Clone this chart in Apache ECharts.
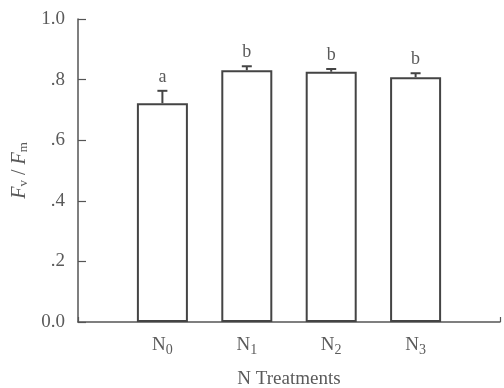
<!DOCTYPE html>
<html>
<head>
<meta charset="utf-8">
<script src="https://cdn.jsdelivr.net/npm/echarts@6/dist/echarts.min.js"></script>
<style>
html, body { margin: 0; padding: 0; background: #fff; }
#chart { width: 504px; height: 388px; }
</style>
</head>
<body>
<div id="chart"></div>
<script>
var categories = ['0', '1', '2', '3'];      // N subscripts
var fvfm = [0.722, 0.831, 0.826, 0.808];
var errs = [0.041, 0.013, 0.009, 0.013];
var letters = ['a', 'b', 'b', 'b'];
var yTickLabels = {'0': '0.0', '0.2': '.2', '0.4': '.4', '0.6': '.6', '0.8': '.8', '1': '1.0'};

var txt = '#5a5a5a';
var lineCol = '#555';
var font = 'Liberation Serif';

var barData = [];
var errData = [];
categories.forEach(function (value, index) {
	barData.push([index + 1, fvfm[index]]);
	errData.push([index + 1, fvfm[index], errs[index], letters[index]]);
});

var chart = echarts.init(document.getElementById('chart'));
var option = {
	animation: false,
	grid: { left: 78, right: 4, top: 19, bottom: 66, outerBoundsMode: 'none' },
	xAxis: {
		type: 'value',
		min: 0,
		max: 5,
		interval: 1,
		splitLine: { show: false },
		axisLine: { lineStyle: { color: lineCol, width: 1.5 } },
		axisTick: { inside: true, length: 5, lineStyle: { color: lineCol, width: 1.2 } },
		axisLabel: {
			margin: 12,
			fontFamily: font,
			fontSize: 19,
			color: txt,
			formatter: function (v) {
				if (v < 1 || v > 4) return '';
				return '{n|N}{s|' + categories[v - 1] + '}';
			},
			rich: {
				n: { fontFamily: font, fontSize: 19, color: txt },
				s: { fontFamily: font, fontSize: 14, color: txt, padding: [9, 0, 0, 0] }
			}
		},
		name: 'N Treatments',
		nameLocation: 'middle',
		nameGap: 48,
		nameTextStyle: { fontFamily: font, fontSize: 19, color: txt }
	},
	yAxis: {
		type: 'value',
		min: 0,
		max: 1,
		interval: 0.2,
		splitLine: { show: false },
		axisLine: { show: true, lineStyle: { color: lineCol, width: 1.5 } },
		axisTick: { show: true, inside: true, length: 8, lineStyle: { color: lineCol, width: 1.2 } },
		axisLabel: {
			margin: 13,
			fontFamily: font,
			fontSize: 19,
			color: txt,
			formatter: function (v) {
				return yTickLabels[String(Math.round(v * 10) / 10)];
			}
		},
		name: '{i|F}{s|v}{n| / }{i|F}{s|m}',
		nameLocation: 'middle',
		nameGap: 24,
		nameTextStyle: {
			color: txt,
			padding: [0, 0, 2, 0],
			rich: {
				i: { fontFamily: font, fontSize: 20, fontStyle: 'italic', color: txt },
				n: { fontFamily: font, fontSize: 20, color: txt },
				s: { fontFamily: font, fontSize: 13, color: txt, padding: [9, 0, 0, 0] }
			}
		}
	},
	series: [
		{
			type: 'bar',
			data: barData,
			barWidth: 51,
			itemStyle: { color: '#fff', borderColor: '#444', borderWidth: 2 }
		},
		{
			type: 'custom',
			data: errData,
			z: 5,
			renderItem: function (params, api) {
				var base = api.coord([api.value(0), api.value(1)]);
				var top = api.coord([api.value(0), api.value(1) + api.value(2)]);
				var letter = errData[params.dataIndex][3];
				return {
					type: 'group',
					children: [
						{ type: 'line', shape: { x1: base[0], y1: base[1], x2: top[0], y2: top[1] },
						  style: { stroke: '#444', lineWidth: 2 } },
						{ type: 'line', shape: { x1: top[0] - 5, y1: top[1], x2: top[0] + 5, y2: top[1] },
						  style: { stroke: '#444', lineWidth: 2 } },
						{ type: 'text', x: top[0], y: top[1] - 14,
						  style: { text: letter, fill: txt, font: '18px "Liberation Serif"', align: 'center', verticalAlign: 'middle' } }
					]
				};
			}
		}
	]
};
chart.setOption(option);
</script>
</body>
</html>
